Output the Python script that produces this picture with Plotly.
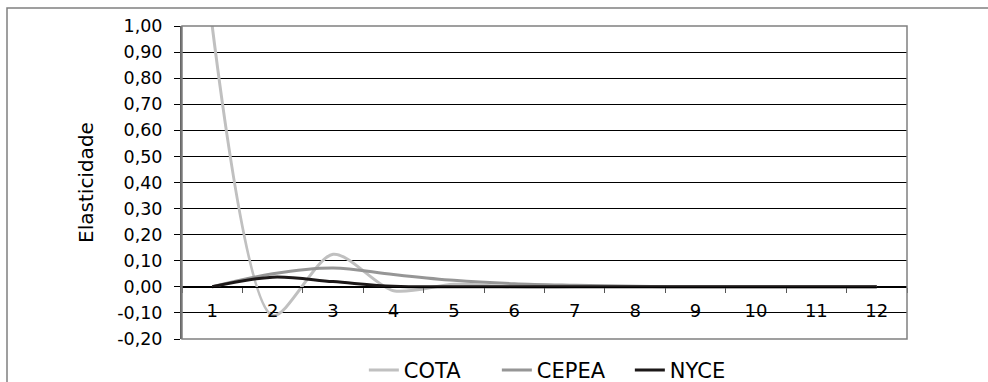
import plotly.graph_objects as go

# ---- data ----
periods = [1, 2, 3, 4, 5, 6, 7, 8, 9, 10, 11, 12]
period_labels = ["1", "2", "3", "4", "5", "6", "7", "8", "9", "10", "11", "12"]
cota = [1.00, -0.11, 0.125, -0.015, 0.01, 0.0, 0.0, 0.0, 0.0, 0.0, 0.0, 0.0]
cepea = [0.00, 0.05, 0.072, 0.047, 0.025, 0.012, 0.006, 0.002, 0.0, 0.0, 0.0, 0.0]
nyce = [0.00, 0.037, 0.02, 0.002, 0.0, 0.0, 0.0, 0.0, 0.0, 0.0, 0.0, 0.0]
y_ticks = [-0.2, -0.1, 0.0, 0.1, 0.2, 0.3, 0.4, 0.5, 0.6, 0.7, 0.8, 0.9, 1.0]
y_tick_labels = ["-0,20", "-0,10", "0,00", "0,10", "0,20", "0,30", "0,40",
                 "0,50", "0,60", "0,70", "0,80", "0,90", "1,00"]

FONT = "DejaVu Sans"

fig = go.Figure()
series = [
    ("COTA", cota, "#c0c0c0", 0.8),
    ("CEPEA", cepea, "#969696", 1.0),
    ("NYCE", nyce, "#1c1818", 1.0),
]
for name, vals, col, sm in series:
    fig.add_trace(go.Scatter(
        x=periods, y=vals, name=name, mode="lines",
        line=dict(color=col, width=3, shape="spline", smoothing=sm),
        hoverinfo="skip",
    ))

x_lo = periods[0] - 0.5
x_hi = periods[-1] + 0.5
boundaries = [p - 0.5 for p in periods] + [x_hi]
y_min, y_max = y_ticks[0], y_ticks[-1]

fig.update_layout(
    width=988, height=382, autosize=False,
    margin=dict(l=182, r=81, t=26, b=43, pad=0, autoexpand=False),
    paper_bgcolor="white", plot_bgcolor="white",
    font=dict(family=FONT, color="black"),
    showlegend=True,
    legend=dict(
        orientation="h", x=0.526, xanchor="center", y=-0.1, yanchor="middle",
        font=dict(family=FONT, size=21, color="black"),
        bgcolor="rgba(0,0,0,0)", entrywidth=88, entrywidthmode="pixels",
        tracegroupgap=0, itemwidth=30,
    ),
    xaxis=dict(
        range=[x_lo, x_hi], tickmode="array", tickvals=periods, ticktext=period_labels,
        ticks="", showgrid=False, zeroline=False,
        showline=True, linecolor="black", linewidth=1,
        anchor="free", position=(0 - y_min) / (y_max - y_min),
        tickfont=dict(family=FONT, size=18, color="black"),
        ticklabelstandoff=8,
        minor=dict(tickmode="array", tickvals=boundaries, ticks="outside",
                   ticklen=5, tickcolor="#555555", tickwidth=1, showgrid=False),
    ),
    yaxis=dict(
        range=[y_min, y_max], tickmode="array", tickvals=y_ticks, ticktext=y_tick_labels,
        ticks="outside", ticklen=6, tickcolor="black", tickwidth=1,
        showgrid=True, gridcolor="black", gridwidth=1, zeroline=False,
        showline=True, linecolor="#666666", linewidth=2,
        tickfont=dict(family=FONT, size=17.5, color="black"),
        ticklabelstandoff=8,
        title=dict(text="Elasticidade", font=dict(family=FONT, size=20, color="black"),
                   standoff=18),
    ),
    shapes=[
        # plot area frame
        dict(type="rect", xref="paper", yref="paper", x0=0, x1=1, y0=0, y1=1,
             line=dict(color="#808080", width=1.5), layer="above"),
        # outer chart frame
        dict(type="rect", xref="paper", yref="paper",
             x0=(7 - 182) / 725, x1=(995 - 182) / 725,
             y0=(339 - 395) / 313, y1=(339 - 8) / 313,
             line=dict(color="#808080", width=1.5), layer="below"),
    ],
)

fig.write_html("out.html")
